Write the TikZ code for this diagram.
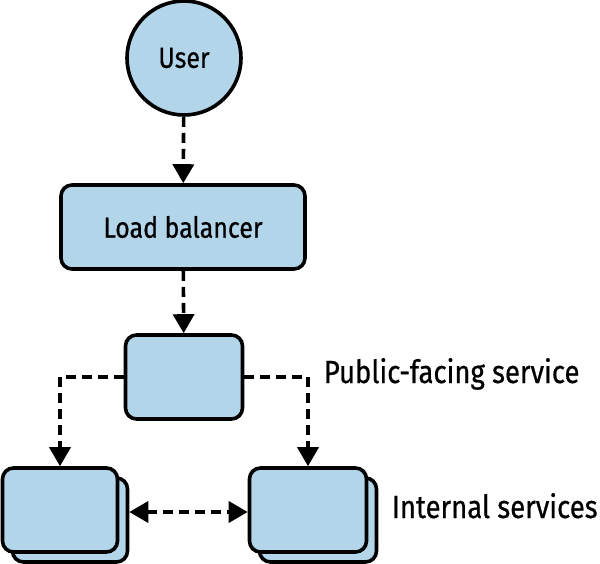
\documentclass[tikz,border=0pt]{standalone}
\usepackage{fontspec}
\setmainfont{Fira Sans}[FakeStretch=0.86,FakeBold=0.6]
\usepackage{tikz}
\usetikzlibrary{arrows.meta,positioning}
\definecolor{boxblue}{HTML}{B3D5EA}

\begin{document}
\begin{tikzpicture}[x=1pt,y=-1pt,line width=3.6pt,
    font=\fontsize{29}{33}\selectfont,
    unit/.style={draw,fill=boxblue,rounded corners=11pt,inner sep=0pt},
    user/.style={circle,draw,fill=boxblue,minimum size=114pt,inner sep=0pt},
    caption/.style={anchor=base west,inner sep=0pt,font=\fontsize{32}{36}\selectfont},
    link/.style={dash pattern=on 10pt off 6pt,-{Triangle[width=21pt,length=19pt]}},
    twolink/.style={dash pattern=on 10pt off 6pt,{Triangle[width=21pt,length=19pt]}-{Triangle[width=21pt,length=19pt]}}]
    \useasboundingbox (0,0) rectangle (600,563);
    \node[user] (user) at (184,58) {User};
    \node[unit,minimum width=244pt,minimum height=84pt] (lb) at (183,227) {Load balancer};
    \node[unit,minimum width=117pt,minimum height=84pt] (pub) at (184,377) {};
    % stacked internal services
    \node[unit,minimum width=115pt,minimum height=84pt] (in1b) at (70,520) {};
    \node[unit,minimum width=115pt,minimum height=84pt] (in1) at (60,510) {};
    \node[unit,minimum width=117pt,minimum height=84pt] (in2b) at (318,520) {};
    \node[unit,minimum width=117pt,minimum height=84pt] (in2) at (308,510) {};
    \node[caption] (publbl) at (322,383) {Public-facing service};
    \node[caption] (inlbl) at (390,518) {Internal services};
    \coordinate (lcorner) at (in1.north |- pub.west);
    \coordinate (rcorner) at (in2.north |- pub.east);
    \path
    (user) edge[link] (lb)
    (lb) edge[link] (pub)
    (in1b.east |- 0,512) edge[twolink] (in2.west |- 0,512);
    \draw[link] (pub.west) -- (lcorner) -- (in1.north);
    \draw[link] (pub.east) -- (rcorner) -- (in2.north);
\end{tikzpicture}
\end{document}
